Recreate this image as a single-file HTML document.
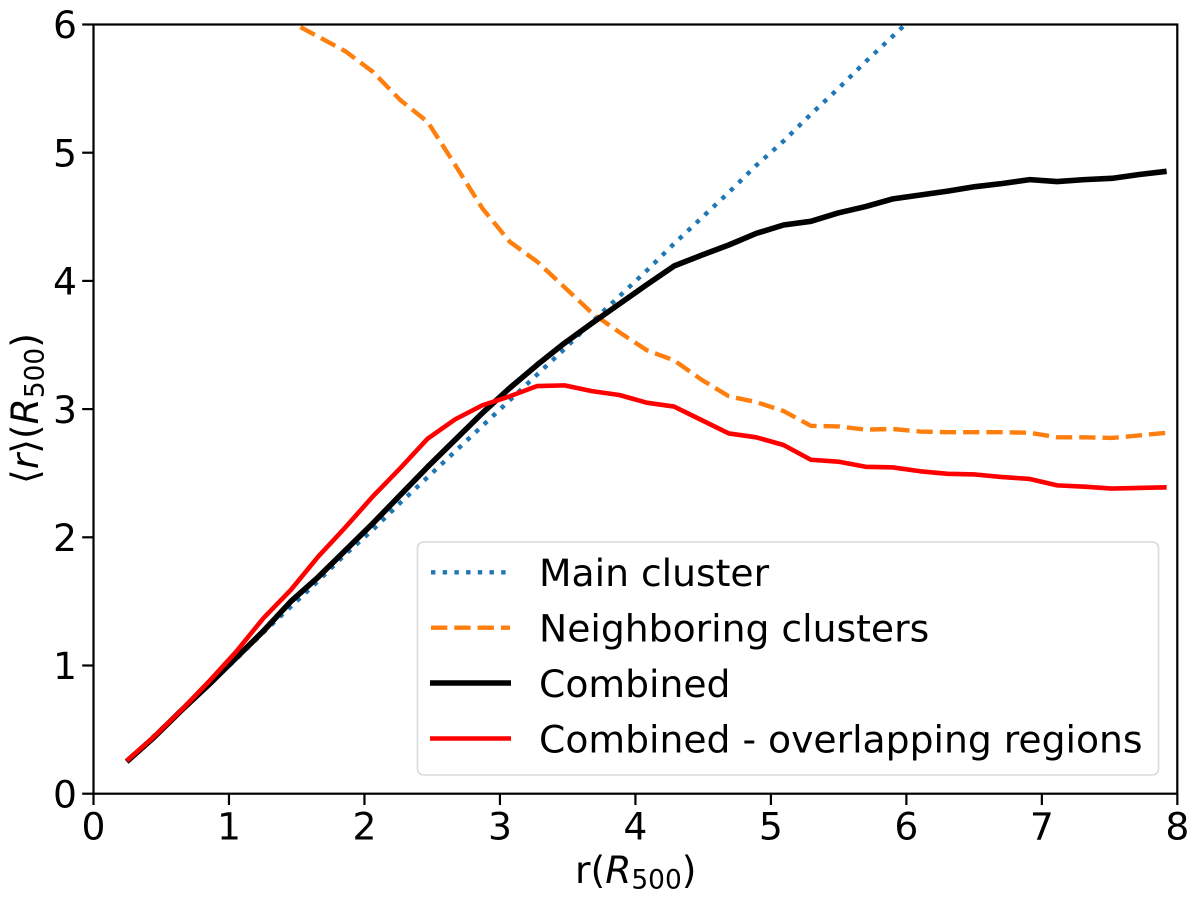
<!DOCTYPE html>
<html>
<head>
<meta charset="utf-8">
<title>Mean radius versus radius</title>
<style>
html,body{margin:0;padding:0;background:#fff;width:1200px;height:900px;overflow:hidden}
svg{display:block}
text{font-family:"DejaVu Sans","Liberation Sans",sans-serif;fill:#000}
</style>
</head>
<body>
<svg id="chart" xmlns="http://www.w3.org/2000/svg" width="1200" height="900" viewBox="0 0 1200 900">
  <defs><clipPath id="plot-clip"><rect x="93.5" y="24.5" width="1084" height="769.2"></rect></clipPath></defs>
  <rect x="0" y="0" width="1200" height="900" fill="#fff"></rect>
  <g id="series" clip-path="url(#plot-clip)" fill="none" stroke-linejoin="round"></g>
  <g id="ticks"></g>
  <rect x="93.5" y="24.5" width="1083.8" height="769.2" fill="none" stroke="#000" stroke-width="2.2"></rect>
  <text x="575" y="883" font-size="37.7">r(<tspan font-style="italic">R</tspan><tspan font-size="26.4" dy="5.5">500</tspan><tspan dy="-5.5">)</tspan></text>
  <text transform="translate(38 484) rotate(-90)" x="0" y="0" font-size="37.7">⟨<tspan font-style="italic">r</tspan>⟩(<tspan font-style="italic">R</tspan><tspan font-size="26.4" dy="5.5">500</tspan><tspan dy="-5.5">)</tspan></text>
  <g>
    <rect x="417.5" y="542" width="741" height="233" rx="6" ry="6" fill="#fff" fill-opacity="0.8" stroke="#d9d9d9" stroke-width="1.6"></rect>
    <line x1="431" x2="510" y1="572.3" y2="572.3" stroke="#1f77b4" stroke-width="4.4" stroke-dasharray="4.4 7.3"></line>
    <text x="539" y="586" font-size="37.7">Main cluster</text>
    <line x1="431" x2="510" y1="627.7" y2="627.7" stroke="#ff7f0e" stroke-width="4.4" stroke-dasharray="16.3 7"></line>
    <text x="539" y="641.5" font-size="37.7">Neighboring clusters</text>
    <line x1="430" x2="511" y1="683" y2="683" stroke="#000" stroke-width="5.6"></line>
    <text x="539" y="696.8" font-size="37.7">Combined</text>
    <line x1="430" x2="511" y1="738.5" y2="738.5" stroke="#ff0000" stroke-width="4.6"></line>
    <text x="539" y="752.3" font-size="37.7">Combined - overlapping regions</text>
  </g>
</svg>
<script>
var radii = [0.245,0.447,0.649,0.851,1.053,1.255,1.457,1.659,1.861,2.063,2.265,2.467,2.669,2.871,3.073,3.275,3.477,3.679,3.881,4.083,4.285,4.487,4.689,4.891,5.093,5.295,5.497,5.699,5.901,6.103,6.305,6.507,6.709,6.911,7.113,7.315,7.517,7.719,7.921];
var mainCluster = [0.25,0.45,0.65,0.85,1.05,1.26,1.46,1.66,1.87,2.06,2.27,2.47,2.67,2.87,3.07,3.27,3.47,3.68,3.88,4.08,4.29,4.49,4.69,4.9,5.09,5.3,5.5,5.71,5.91,6.11];
var neighboringClusters = [null,null,null,null,null,6.2,6.02,5.905,5.79,5.63,5.41,5.24,4.905,4.565,4.305,4.15,3.95,3.75,3.6,3.46,3.38,3.23,3.1,3.055,2.985,2.87,2.865,2.84,2.845,2.825,2.82,2.82,2.82,2.815,2.78,2.78,2.775,2.795,2.815];
var combined = [0.25,0.44,0.65,0.85,1.06,1.27,1.5,1.69,1.9,2.11,2.33,2.55,2.76,2.97,3.165,3.345,3.515,3.67,3.82,3.97,4.116,4.2,4.28,4.37,4.436,4.465,4.53,4.58,4.64,4.67,4.7,4.735,4.76,4.79,4.775,4.79,4.8,4.83,4.855];
var combinedMinusOverlap = [0.257,0.445,0.653,0.874,1.108,1.37,1.59,1.85,2.08,2.32,2.54,2.77,2.92,3.03,3.1,3.18,3.185,3.14,3.11,3.05,3.02,2.915,2.81,2.78,2.72,2.605,2.59,2.55,2.545,2.515,2.495,2.49,2.47,2.455,2.405,2.395,2.38,2.385,2.39];
var xTickLabels = ["0","1","2","3","4","5","6","7","8"];
var yTickLabels = ["0","1","2","3","4","5","6"];

var NS = "http://www.w3.org/2000/svg";
function xScale(v){ return 93.5 + v * 135.48; }
function yScale(v){ return 793.7 - v * 128.2; }

function buildPath(values){
  var d = "";
  for (var i = 0; i < values.length; i++) {
    if (values[i] === null) continue;
    d += (d ? "L" : "M") + xScale(radii[i]).toFixed(2) + " " + yScale(values[i]).toFixed(2);
  }
  return d;
}

var seriesLayer = document.getElementById("series");
var tickLayer = document.getElementById("ticks");

var mainPath = document.createElementNS(NS, "path");


mainPath.setAttribute("d", buildPath(mainCluster));
mainPath.setAttribute("stroke", "#1f77b4");
mainPath.setAttribute("stroke-width", "4.4");
mainPath.setAttribute("stroke-dasharray", "4.4 7.3");
seriesLayer.appendChild(mainPath);

var neighborPath = document.createElementNS(NS, "path");


neighborPath.setAttribute("d", buildPath(neighboringClusters));
neighborPath.setAttribute("stroke", "#ff7f0e");
neighborPath.setAttribute("stroke-width", "4.4");
neighborPath.setAttribute("stroke-dasharray", "16.3 7");
seriesLayer.appendChild(neighborPath);

var combinedPath = document.createElementNS(NS, "path");


combinedPath.setAttribute("d", buildPath(combined));
combinedPath.setAttribute("stroke", "#000");
combinedPath.setAttribute("stroke-width", "5.6");
seriesLayer.appendChild(combinedPath);

var overlapPath = document.createElementNS(NS, "path");


overlapPath.setAttribute("d", buildPath(combinedMinusOverlap));
overlapPath.setAttribute("stroke", "#ff0000");
overlapPath.setAttribute("stroke-width", "4.6");
seriesLayer.appendChild(overlapPath);

xTickLabels.forEach(function(label){
  var x = xScale(Number(label));
  var mark = document.createElementNS(NS, "line");
  
  
  mark.setAttribute("x1", x);
  mark.setAttribute("x2", x);
  mark.setAttribute("y1", 793.7);
  mark.setAttribute("y2", 805);
  mark.setAttribute("stroke", "#000");
  mark.setAttribute("stroke-width", "2.2");
  tickLayer.appendChild(mark);
  var text = document.createElementNS(NS, "text");
  
  
  text.setAttribute("x", x);
  text.setAttribute("y", 839.3);
  text.setAttribute("font-size", "37.7");
  text.setAttribute("text-anchor", "middle");
  text.textContent = label;
  tickLayer.appendChild(text);
});

yTickLabels.forEach(function(label){
  var y = yScale(Number(label));
  var mark = document.createElementNS(NS, "line");
  
  
  mark.setAttribute("x1", 82.2);
  mark.setAttribute("x2", 93.5);
  mark.setAttribute("y1", y);
  mark.setAttribute("y2", y);
  mark.setAttribute("stroke", "#000");
  mark.setAttribute("stroke-width", "2.2");
  tickLayer.appendChild(mark);
  var text = document.createElementNS(NS, "text");
  
  
  text.setAttribute("x", 77);
  text.setAttribute("y", y + 13.7);
  text.setAttribute("font-size", "37.7");
  text.setAttribute("text-anchor", "end");
  text.textContent = label;
  tickLayer.appendChild(text);
});
</script>
</body>
</html>
